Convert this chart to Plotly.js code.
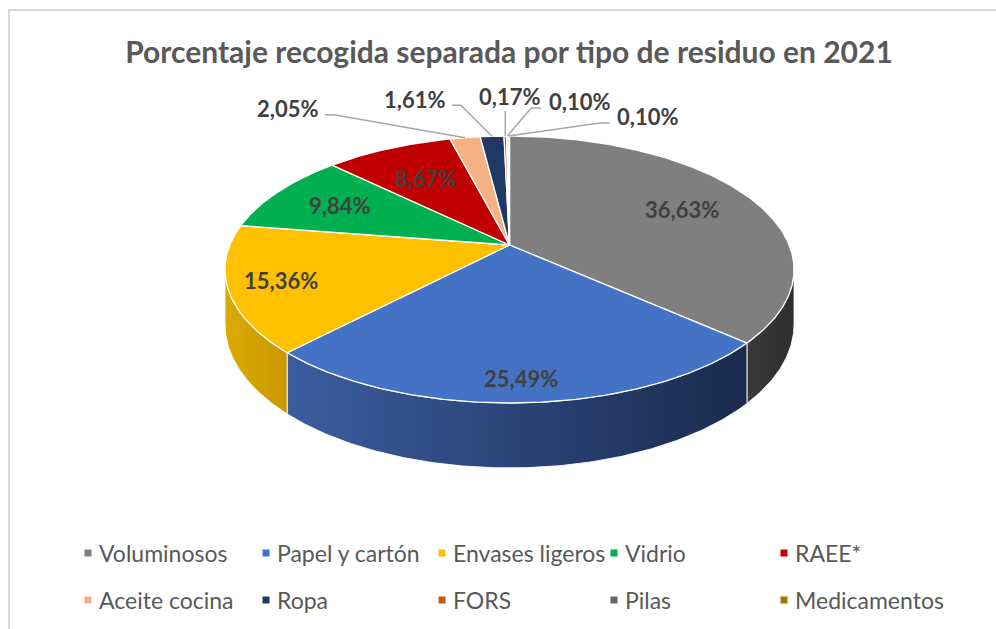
<!DOCTYPE html>
<html><head><meta charset="utf-8">
<script src="https://cdn.plot.ly/plotly-3.0.1.min.js"></script>
<style>html,body{margin:0;padding:0;background:#fff;} #chart{width:996px;height:629px;}</style>
</head><body><div id="chart"></div>
<script>
// ---------- DATA ----------
const chartTitle = 'Porcentaje recogida separada por tipo de residuo en 2021';
const categories = ['Voluminosos','Papel y cartón','Envases ligeros','Vidrio','RAEE*','Aceite cocina','Ropa','FORS','Pilas','Medicamentos'];
const percentages = [36.63, 25.49, 15.36, 9.84, 8.67, 2.05, 1.61, 0.17, 0.10, 0.10];

// ---------- STYLE ----------
const topColors = ['#7f7f7f','#4472c4','#ffc000','#00b050','#c00000','#f4b183','#203864','#c55a11','#636363','#9c7800'];
const sideScales = [
  [[0,'#3a3a3a'],[1,'#2e2e2e']],
  [[0,'#3b5da0'],[1,'#1a2a4d']],
  [[0,'#dcaa00'],[1,'#c99800']],
  [[0,'#008a3e'],[1,'#006e31']],
  [[0,'#a00000'],[1,'#800000']],
  [[0,'#d09570'],[1,'#c08060']],
  [[0,'#1b2f54'],[1,'#15243f']],
  [[0,'#a04a0e'],[1,'#8a400c']],
  [[0,'#505050'],[1,'#454545']],
  [[0,'#806200'],[1,'#705600']]
];
// label placement (inside: radius factor; outside: pixel offset from rim)
const insideR = [0.71, 0.87, 0.82, 0.72, 0.66, null, null, null, null, null];
const outsideOff = [null, null, null, null, null, [-178,-29], [-78,-37], [4,-40], [72,-35], [139,-20]];

// ---------- GEOMETRY (pixel space, perspective pie) ----------
const CX = 509.5, CY = 245, A = 279.7, B = 129, Q = 0.1835, H = 53;
function proj(deg, r) {
  const t = deg * Math.PI / 180, c = Math.cos(t), s = 1 / (1 + Q * r * c);
  return [CX + A * r * Math.sin(t) * s, CY - B * r * c * s];
}
function depth(deg) { const c = Math.cos(deg * Math.PI / 180); return H / (1 + Q * c); }
const tMin = 90 + Math.asin(Q) * 180 / Math.PI, tMax = 360 - tMin;

const total = percentages.reduce((a, b) => a + b, 0);
const starts = [], ends = [];
let acc = 0;
percentages.forEach(v => { starts.push(acc / total * 360); acc += v; ends.push(acc / total * 360); });

function arc(a1, a2) {
  const n = Math.max(2, Math.ceil((a2 - a1) / 0.5));
  const pts = [];
  for (let k = 0; k <= n; k++) pts.push(proj(a1 + (a2 - a1) * k / n, 1));
  return pts;
}

const traces = [];
// side walls
categories.forEach((name, i) => {
  const b1 = Math.max(starts[i], tMin), b2 = Math.min(ends[i], tMax);
  if (b2 <= b1) return;
  const top = arc(b1, b2);
  const n = top.length - 1;
  const bot = [];
  for (let k = n; k >= 0; k--) {
    const d = b1 + (b2 - b1) * k / n;
    const p = proj(d, 1);
    bot.push([p[0], p[1] + depth(d)]);
  }
  const pts = top.concat(bot);
  pts.push(pts[0]);
  traces.push({
    type: 'scatter', mode: 'lines', x: pts.map(p => p[0]), y: pts.map(p => p[1]),
    fill: 'toself', fillgradient: {type: 'horizontal', colorscale: sideScales[i]},
    line: {color: 'rgba(255,255,255,0.85)', width: 1}, hoverinfo: 'skip', showlegend: false
  });
});
// top faces
categories.forEach((name, i) => {
  const pts = [[CX, CY]].concat(arc(starts[i], ends[i]));
  pts.push([CX, CY]);
  traces.push({
    type: 'scatter', mode: 'lines', x: pts.map(p => p[0]), y: pts.map(p => p[1]),
    fill: 'toself', fillcolor: topColors[i], name: name,
    line: {color: '#ffffff', width: 1.3}, hoverinfo: 'skip', showlegend: false
  });
});

const fmt = v => v.toFixed(2).replace('.', ',') + '%';
const annotations = [];
const labelFont = {family: 'Lato, "Open Sans", sans-serif', size: 22, color: '#404040', weight: 700};
const halfW = 35;
categories.forEach((name, i) => {
  const mid = (starts[i] + ends[i]) / 2;
  if (insideR[i] !== null) {
    const p = proj(mid, insideR[i]);
    annotations.push({x: p[0], y: p[1], xref: 'x', yref: 'y', text: fmt(percentages[i]), showarrow: false,
      font: labelFont, xanchor: 'center', yanchor: 'middle'});
  } else {
    const rim = proj(mid, 1);
    const off = outsideOff[i];
    const lx = rim[0] + off[0], ly = rim[1] + off[1];
    annotations.push({x: lx, y: ly, xref: 'x', yref: 'y', text: fmt(percentages[i]), showarrow: false,
      font: labelFont, xanchor: 'center', yanchor: 'middle'});
    let lp;
    if (Math.abs(off[0]) < 12) {
      lp = [[rim[0], ly + 15], rim];
    } else if (off[0] < 0) {
      const e = [lx + halfW + 3, ly + 6];
      lp = [e, [e[0] + 9, e[1]], rim];
    } else {
      const e = [lx - halfW - 3, ly + 7];
      lp = [e, [e[0] - 10, e[1]], rim];
    }
    traces.push({type: 'scatter', mode: 'lines', x: lp.map(p => p[0]), y: lp.map(p => p[1]),
      line: {color: '#a6a6a6', width: 1.5}, hoverinfo: 'skip', showlegend: false});
  }
});

// legend (2 rows x 5 columns)
const legCols = [88, 266, 442, 614, 784], legRows = [553, 600];
const lx = [], ly = [];
categories.forEach((name, i) => {
  const x = legCols[i % 5], y = legRows[Math.floor(i / 5)];
  lx.push(x); ly.push(y);
  annotations.push({x: x + 9, y: y, xref: 'x', yref: 'y', text: name, showarrow: false,
    xanchor: 'left', yanchor: 'middle', font: {family: 'Lato, "Open Sans", sans-serif', size: 23, color: '#595959'}});
});
traces.push({type: 'scatter', mode: 'markers', x: lx, y: ly,
  marker: {symbol: 'square', size: 7, color: topColors}, hoverinfo: 'skip', showlegend: false});

const layout = {
  width: 996, height: 629, margin: {l: 0, r: 0, t: 0, b: 0},
  paper_bgcolor: '#ffffff', plot_bgcolor: '#ffffff', showlegend: false,
  xaxis: {range: [0, 996], visible: false, fixedrange: true},
  yaxis: {range: [629, 0], visible: false, fixedrange: true},
  title: {text: chartTitle, x: 509 / 996, xanchor: 'center', xref: 'paper', y: 1 - 52 / 629, yanchor: 'middle', yref: 'paper',
    font: {family: 'Lato, "Open Sans", sans-serif', size: 30, color: '#595959', weight: 700}},
  annotations: annotations,
  shapes: [
    {type: 'line', xref: 'x', yref: 'y', x0: 8, y0: 10, x1: 1000, y1: 10, line: {color: '#d9d9d9', width: 2}},
    {type: 'line', xref: 'x', yref: 'y', x0: 9, y0: 9, x1: 9, y1: 640, line: {color: '#d9d9d9', width: 2}}
  ]
};
Plotly.newPlot('chart', traces, layout, {staticPlot: true, displayModeBar: false});
</script>
</body></html>
